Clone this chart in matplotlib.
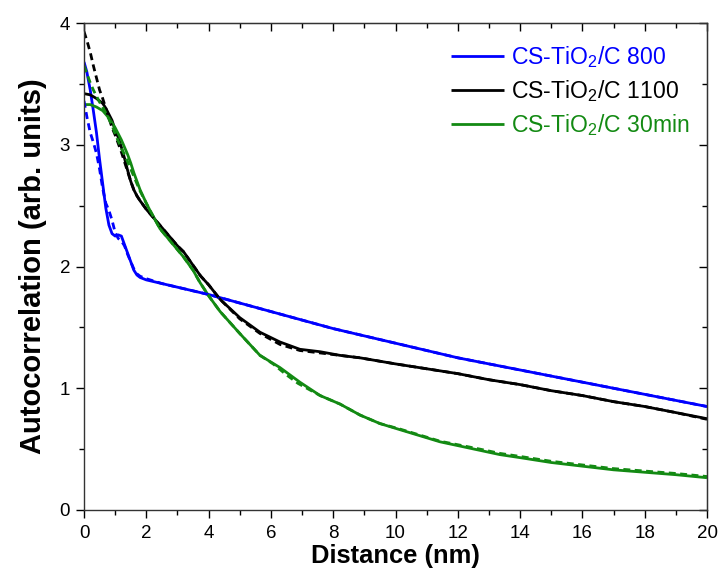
import matplotlib
matplotlib.use("Agg")
import matplotlib.pyplot as plt
from matplotlib.ticker import MultipleLocator

plt.rcParams['font.family'] = ['Liberation Sans', 'DejaVu Sans']
plt.rcParams['mathtext.fontset'] = 'custom'
plt.rcParams['mathtext.rm'] = 'Liberation Sans'

# ---- data ----
x_800 = [0, 0.09, 0.2, 0.3, 0.4, 0.5, 0.6, 0.7, 0.8, 0.9, 1.0, 1.1, 1.2, 1.3, 1.4, 1.5, 1.6, 1.7, 1.8,
         2.0, 2.5, 3, 4, 5, 6, 7, 8, 9, 10, 11, 12, 13, 14, 15, 16, 17, 18, 19, 20]
y_800 = [3.68, 3.60, 3.45, 3.28, 3.10, 2.88, 2.68, 2.48, 2.34, 2.27, 2.25, 2.26, 2.25, 2.18, 2.11, 2.04, 1.97, 1.93, 1.91,
         1.89, 1.86, 1.83, 1.77, 1.70, 1.63, 1.56, 1.49, 1.43, 1.37, 1.31, 1.25, 1.20, 1.15, 1.10, 1.05, 1.00, 0.95, 0.90, 0.85]
x_800_fit = [0, 0.1, 0.2, 0.3, 0.4, 0.5, 0.6, 0.7, 0.8, 0.9, 1.0, 1.1, 1.2, 1.3, 1.4, 1.5, 1.6, 1.7, 1.8,
             2.0, 2.5, 3, 4, 5, 6, 7, 8, 9, 10, 11, 12, 13, 14, 15, 16, 17, 18, 19, 20]
y_800_fit = [3.36, 3.22, 3.10, 3.02, 2.93, 2.80, 2.64, 2.52, 2.46, 2.38, 2.28, 2.23, 2.21, 2.17, 2.10, 2.04, 1.98, 1.94, 1.92,
             1.90, 1.86, 1.83, 1.77, 1.70, 1.63, 1.56, 1.49, 1.43, 1.37, 1.31, 1.25, 1.20, 1.15, 1.10, 1.05, 1.00, 0.95, 0.90, 0.85]

x_1100 = [0, 0.2, 0.4, 0.6, 0.7, 0.8, 0.9, 1.0, 1.1, 1.2, 1.3, 1.4, 1.5, 1.6, 1.7, 1.8, 2.0, 2.2, 2.4, 2.6, 2.8,
          3.0, 3.2, 3.5, 3.75, 4.0, 4.37, 5.0, 5.65, 6.29, 6.93, 7.58, 8.22, 8.86, 10, 11, 12, 13, 14, 15, 16, 17, 18, 19, 20]
y_1100 = [3.42, 3.41, 3.38, 3.34, 3.30, 3.25, 3.20, 3.12, 3.06, 2.98, 2.89, 2.79, 2.70, 2.63, 2.58, 2.54, 2.47, 2.41, 2.35, 2.29, 2.23,
          2.17, 2.12, 2.01, 1.92, 1.85, 1.73, 1.58, 1.46, 1.38, 1.32, 1.30, 1.27, 1.25, 1.20, 1.16, 1.12, 1.07, 1.03, 0.98, 0.94, 0.89, 0.85, 0.80, 0.75]
x_1100_fit = [0, 0.1, 0.2, 0.3, 0.4, 0.5, 0.6, 0.7, 0.8, 0.9, 1.0, 1.1, 1.2, 1.3, 1.4, 1.5, 1.6, 1.7, 1.8, 2.0, 2.2, 2.4, 2.6, 2.8,
              3.0, 3.2, 3.5, 3.75, 4.0, 4.37, 5.0, 5.65, 6.29, 6.93, 7.58, 8.22, 8.86, 10, 11, 12, 13, 14, 15, 16, 17, 18, 19, 20]
y_1100_fit = [3.93, 3.85, 3.76, 3.65, 3.55, 3.45, 3.38, 3.30, 3.22, 3.14, 3.08, 3.01, 2.94, 2.86, 2.78, 2.70, 2.63, 2.58, 2.54, 2.47, 2.41, 2.35, 2.29, 2.23,
              2.17, 2.12, 2.01, 1.92, 1.85, 1.73, 1.57, 1.45, 1.36, 1.31, 1.29, 1.27, 1.25, 1.20, 1.16, 1.12, 1.07, 1.03, 0.98, 0.94, 0.89, 0.85, 0.80, 0.745]

x_30 = [0, 0.2, 0.4, 0.6, 0.8, 1.0, 1.1, 1.2, 1.3, 1.4, 1.5, 1.6, 1.7, 1.8, 2.0, 2.12, 2.44, 2.8, 3.19, 3.5, 3.72,
        4.0, 4.37, 5.0, 5.65, 6.29, 6.93, 7.58, 8.22, 8.86, 9.5, 10.14, 11.43, 12.71, 13.35, 14, 15, 16, 17, 18, 19, 20]
y_30 = [3.33, 3.33, 3.31, 3.28, 3.22, 3.14, 3.09, 3.04, 2.98, 2.92, 2.85, 2.77, 2.70, 2.63, 2.52, 2.46, 2.31, 2.20, 2.08, 1.97, 1.87,
        1.76, 1.63, 1.45, 1.27, 1.17, 1.05, 0.94, 0.87, 0.78, 0.71, 0.66, 0.56, 0.49, 0.455, 0.43, 0.39, 0.36, 0.33, 0.31, 0.29, 0.265]
x_30_fit = [0, 0.1, 0.2, 0.3, 0.4, 0.5, 0.6, 0.7, 0.8, 0.9, 1.0, 1.1, 1.2, 1.3, 1.4, 1.5, 1.6, 1.7, 1.8, 2.0, 2.12, 2.44, 2.8, 3.19, 3.5, 3.72,
            4.0, 4.37, 5.0, 5.65, 6.07, 6.5, 6.87, 7.58, 8.22, 8.86, 9.5, 10.14, 11.43, 12.71, 13.35, 14, 15, 16, 17, 18, 19, 20]
y_30_fit = [3.65, 3.58, 3.51, 3.45, 3.40, 3.35, 3.31, 3.26, 3.21, 3.16, 3.09, 3.03, 2.97, 2.92, 2.86, 2.80, 2.74, 2.68, 2.62, 2.52, 2.46, 2.31, 2.20, 2.08, 1.97, 1.87,
            1.76, 1.63, 1.45, 1.27, 1.20, 1.11, 1.04, 0.94, 0.87, 0.78, 0.71, 0.665, 0.565, 0.50, 0.465, 0.44, 0.40, 0.37, 0.34, 0.32, 0.30, 0.275]

labels = ["CS-TiO$_2$/C 800", "CS-TiO$_2$/C 1100", "CS-TiO$_2$/C 30min"]
colors = ["#0000ff", "#000000", "#138a13"]

# ---- plot ----
fig = plt.figure(figsize=(7.22, 5.76), dpi=100)
ax = fig.add_axes([84/722, 66/576, 623/722, 487/576])

lw = 2.0
dash = (0, (2.5, 1.6))
series = [(x_800, y_800, x_800_fit, y_800_fit), (x_1100, y_1100, x_1100_fit, y_1100_fit),
          (x_30, y_30, x_30_fit, y_30_fit)]
handles = []
for (xs, ys, xf, yf), c, lab in zip(series, colors, labels):
    h, = ax.plot(xs, ys, color=c, lw=lw, label=lab, solid_capstyle='butt')
    handles.append(h)
for (xs, ys, xf, yf), c in zip(series, colors):
    ax.plot(xf, yf, color=c, lw=lw, linestyle=dash)

ax.set_xlim(0, 20)
ax.set_ylim(0, 4)
ax.xaxis.set_major_locator(MultipleLocator(2))
ax.xaxis.set_minor_locator(MultipleLocator(1))
ax.yaxis.set_major_locator(MultipleLocator(1))
ax.yaxis.set_minor_locator(MultipleLocator(0.5))
ax.tick_params(which='both', direction='out', top=False, right=False, labelsize=13.5, width=1.0)
ax.tick_params(which='major', length=6)
ax.tick_params(which='minor', length=3.5)
ax.tick_params(axis='x', pad=5)
ax.tick_params(axis='y', pad=4)

sec_x = ax.secondary_xaxis('top')
sec_x.xaxis.set_major_locator(MultipleLocator(2))
sec_x.xaxis.set_minor_locator(MultipleLocator(1))
sec_x.tick_params(which='both', direction='in', labeltop=False, width=1.0)
sec_x.tick_params(which='major', length=6)
sec_x.tick_params(which='minor', length=3.5)
sec_y = ax.secondary_yaxis('right')
sec_y.yaxis.set_major_locator(MultipleLocator(1))
sec_y.yaxis.set_minor_locator(MultipleLocator(0.5))
sec_y.tick_params(which='both', direction='in', labelright=False, width=1.0)
sec_y.tick_params(which='major', length=6)
sec_y.tick_params(which='minor', length=3.5)

for s in ax.spines.values():
    s.set_linewidth(1.0)
    s.set_color('#333333')

ax.set_xlabel("Distance (nm)", fontsize=18.4, fontweight='bold', labelpad=1)
ax.set_ylabel("Autocorrelation (arb. units)", fontsize=21, fontweight='bold', labelpad=9)

leg = ax.legend(handles=handles, loc='upper left', bbox_to_anchor=(0.563, 0.99), frameon=False,
                fontsize=16.6, handlelength=2.3, handletextpad=0.3, labelspacing=0.35, borderpad=0.2)
for t, c in zip(leg.get_texts(), colors):
    t.set_color(c)

fig.savefig("out.png", dpi=100)
